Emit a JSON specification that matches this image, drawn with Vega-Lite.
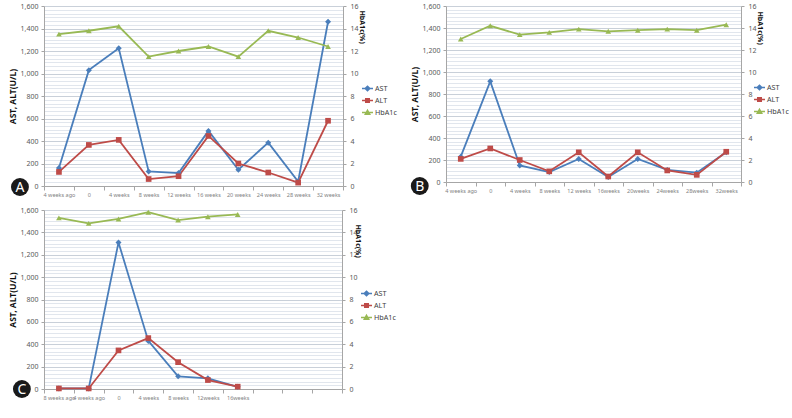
{
  "$schema": "https://vega.github.io/schema/vega-lite/v6.json",
  "background": "white",
  "padding": {"left": 8, "top": 2, "right": 0, "bottom": 2},
  "config": {
    "view": {"stroke": null},
    "font": "Noto Sans",
    "axis": {"labelColor": "#595959", "labelFontSize": 7, "titleFontSize": 8.5, "titleColor": "#111111", "titleFontWeight": "bold", "domainColor": "#a6a6a6", "tickColor": "#a6a6a6"},
    "legend": {"labelFontSize": 7.2, "labelColor": "#404040", "rowPadding": 0, "symbolSize": 121, "labelOffset": 1}
  },
  "datasets": {
    "A": [
      {"t": "4 weeks ago", "series": "AST", "value": 160},
      {"t": "0", "series": "AST", "value": 1030},
      {"t": "4 weeks", "series": "AST", "value": 1225},
      {"t": "8 weeks", "series": "AST", "value": 130},
      {"t": "12 weeks", "series": "AST", "value": 115},
      {"t": "16 weeks", "series": "AST", "value": 490},
      {"t": "20 weeks", "series": "AST", "value": 145},
      {"t": "24 weeks", "series": "AST", "value": 385},
      {"t": "28 weeks", "series": "AST", "value": 40},
      {"t": "32 weeks", "series": "AST", "value": 1460},
      {"t": "4 weeks ago", "series": "ALT", "value": 125},
      {"t": "0", "series": "ALT", "value": 365},
      {"t": "4 weeks", "series": "ALT", "value": 410},
      {"t": "8 weeks", "series": "ALT", "value": 62},
      {"t": "12 weeks", "series": "ALT", "value": 87},
      {"t": "16 weeks", "series": "ALT", "value": 445},
      {"t": "20 weeks", "series": "ALT", "value": 200},
      {"t": "24 weeks", "series": "ALT", "value": 120},
      {"t": "28 weeks", "series": "ALT", "value": 30},
      {"t": "32 weeks", "series": "ALT", "value": 580},
      {"t": "4 weeks ago", "series": "HbA1c", "value": 13.5},
      {"t": "0", "series": "HbA1c", "value": 13.8},
      {"t": "4 weeks", "series": "HbA1c", "value": 14.2},
      {"t": "8 weeks", "series": "HbA1c", "value": 11.5},
      {"t": "12 weeks", "series": "HbA1c", "value": 12.0},
      {"t": "16 weeks", "series": "HbA1c", "value": 12.4},
      {"t": "20 weeks", "series": "HbA1c", "value": 11.5},
      {"t": "24 weeks", "series": "HbA1c", "value": 13.8},
      {"t": "28 weeks", "series": "HbA1c", "value": 13.2},
      {"t": "32 weeks", "series": "HbA1c", "value": 12.4}
    ],
    "B": [
      {"t": "4 weeks ago", "series": "AST", "value": 230},
      {"t": "0", "series": "AST", "value": 915},
      {"t": "4 weeks", "series": "AST", "value": 150},
      {"t": "8 weeks", "series": "AST", "value": 90},
      {"t": "12 weeks", "series": "AST", "value": 210},
      {"t": "16weeks", "series": "AST", "value": 45},
      {"t": "20weeks", "series": "AST", "value": 210},
      {"t": "24weeks", "series": "AST", "value": 110},
      {"t": "28weeks", "series": "AST", "value": 85},
      {"t": "32weeks", "series": "AST", "value": 270},
      {"t": "4 weeks ago", "series": "ALT", "value": 210},
      {"t": "0", "series": "ALT", "value": 305},
      {"t": "4 weeks", "series": "ALT", "value": 200},
      {"t": "8 weeks", "series": "ALT", "value": 97},
      {"t": "12 weeks", "series": "ALT", "value": 270},
      {"t": "16weeks", "series": "ALT", "value": 50},
      {"t": "20weeks", "series": "ALT", "value": 270},
      {"t": "24weeks", "series": "ALT", "value": 105},
      {"t": "28weeks", "series": "ALT", "value": 65},
      {"t": "32weeks", "series": "ALT", "value": 275},
      {"t": "4 weeks ago", "series": "HbA1c", "value": 13.0},
      {"t": "0", "series": "HbA1c", "value": 14.2},
      {"t": "4 weeks", "series": "HbA1c", "value": 13.4},
      {"t": "8 weeks", "series": "HbA1c", "value": 13.6},
      {"t": "12 weeks", "series": "HbA1c", "value": 13.9},
      {"t": "16weeks", "series": "HbA1c", "value": 13.7},
      {"t": "20weeks", "series": "HbA1c", "value": 13.8},
      {"t": "24weeks", "series": "HbA1c", "value": 13.9},
      {"t": "28weeks", "series": "HbA1c", "value": 13.8},
      {"t": "32weeks", "series": "HbA1c", "value": 14.3}
    ],
    "C": [
      {"t": "8 weeks ago", "series": "AST", "value": 5},
      {"t": "4 weeks ago", "series": "AST", "value": 5},
      {"t": "0", "series": "AST", "value": 1310},
      {"t": "4 weeks", "series": "AST", "value": 430},
      {"t": "8 weeks", "series": "AST", "value": 113},
      {"t": "12weeks", "series": "AST", "value": 95},
      {"t": "16weeks", "series": "AST", "value": 20},
      {"t": "8 weeks ago", "series": "ALT", "value": 5},
      {"t": "4 weeks ago", "series": "ALT", "value": 5},
      {"t": "0", "series": "ALT", "value": 345},
      {"t": "4 weeks", "series": "ALT", "value": 455},
      {"t": "8 weeks", "series": "ALT", "value": 240},
      {"t": "12weeks", "series": "ALT", "value": 80},
      {"t": "16weeks", "series": "ALT", "value": 21},
      {"t": "8 weeks ago", "series": "HbA1c", "value": 15.3},
      {"t": "4 weeks ago", "series": "HbA1c", "value": 14.8},
      {"t": "0", "series": "HbA1c", "value": 15.2},
      {"t": "4 weeks", "series": "HbA1c", "value": 15.8},
      {"t": "8 weeks", "series": "HbA1c", "value": 15.1},
      {"t": "12weeks", "series": "HbA1c", "value": 15.4},
      {"t": "16weeks", "series": "HbA1c", "value": 15.6}
    ],
    "badgeA": [{"t": "4 weeks ago", "label": "A"}],
    "badgeB": [{"t": "4 weeks ago", "label": "B"}],
    "badgeC": [{"t": "8 weeks ago", "label": "C"}]
  },
  "spacing": 8,
  "resolve": {"scale": {"color": "independent", "x": "independent"}, "legend": {"color": "independent"}},
  "vconcat": [
    {
      "spacing": 13,
      "resolve": {"scale": {"color": "independent", "x": "independent"}, "legend": {"color": "independent"}},
      "hconcat": [
        {
          "width": 299, "height": 180,
          "encoding": {
            "x": {"field": "t", "type": "nominal", "sort": null,
              "scale": {"type": "band", "paddingInner": 0, "paddingOuter": 0, "domain": ["4 weeks ago", "0", "4 weeks", "8 weeks", "12 weeks", "16 weeks", "20 weeks", "24 weeks", "28 weeks", "32 weeks"]},
              "axis": {"title": null, "labelAngle": 0, "labelFontSize": 5.5, "labelColor": "#7f7f7f", "labelOverlap": false, "tickBand": "extent", "tickSize": 4, "labelPadding": 2, "domainColor": "#a6a6a6"}}
          },
          "layer": [
            {
              "data": {"name": "A"},
              "transform": [{"filter": "datum.series !== 'HbA1c'"}],
              "encoding": {
                "y": {"field": "value", "type": "quantitative", "scale": {"domain": [0, 1600], "nice": false},
                  "axis": {"title": "AST, ALT(U/L)", "titlePadding": 3, "labelPadding": 3,
                    "values": [0, 33.333, 66.667, 100, 133.333, 166.667, 200, 233.333, 266.667, 300, 333.333, 366.667, 400, 433.333, 466.667, 500, 533.333, 566.667, 600, 633.333, 666.667, 700, 733.333, 766.667, 800, 833.333, 866.667, 900, 933.333, 966.667, 1000, 1033.333, 1066.667, 1100, 1133.333, 1166.667, 1200, 1233.333, 1266.667, 1300, 1333.333, 1366.667, 1400, 1433.333, 1466.667, 1500, 1533.333, 1566.667, 1600],
                    "labelExpr": "abs(datum.value/200 - round(datum.value/200)) < 0.01 ? format(datum.value, ',') : ''",
                    "grid": true,
                    "gridColor": {"condition": {"test": "abs(datum.value/200 - round(datum.value/200)) < 0.01", "value": "#c9d0d9"}, "value": "#e1e6ed"},
                    "tickOpacity": {"condition": {"test": "abs(datum.value/200 - round(datum.value/200)) < 0.01", "value": 1}, "value": 0},
                    "tickSize": 3}},
                "color": {"field": "series", "type": "nominal", "scale": {"domain": ["AST", "ALT", "HbA1c"], "range": ["#4a7ebb", "#be4b48", "#98b954"]},
                  "legend": {"title": null, "orient": "none", "legendX": 317, "legendY": 76,
                    "encode": {"symbols": {"update": {
                      "shape": {"signal": "datum.value === 'AST' ? 'M-1,0H1M0,-0.42L0.42,0L0,0.42L-0.42,0Z' : datum.value === 'ALT' ? 'M-1,0H1M-0.32,-0.32H0.32V0.32H-0.32Z' : 'M-1,0H1M0,-0.4L0.4,0.3H-0.4Z'"},
                      "stroke": {"signal": "datum.value === 'AST' ? '#4a7ebb' : datum.value === 'ALT' ? '#be4b48' : '#98b954'"},
                      "fill": {"signal": "datum.value === 'AST' ? '#4a7ebb' : datum.value === 'ALT' ? '#be4b48' : '#98b954'"},
                      "strokeWidth": {"value": 1.5}, "opacity": {"value": 1}}}}}}
              },
              "layer": [
                {"mark": {"type": "line", "strokeWidth": 1.8}},
                {"transform": [{"filter": "datum.series === 'AST'"}], "mark": {"type": "point", "shape": "diamond", "filled": true, "opacity": 1, "size": 36}},
                {"transform": [{"filter": "datum.series === 'ALT'"}], "mark": {"type": "point", "shape": "square", "filled": true, "opacity": 1, "size": 32}}
              ]
            },
            {
              "data": {"name": "A"},
              "transform": [{"filter": "datum.series === 'HbA1c'"}],
              "encoding": {
                "y": {"field": "value", "type": "quantitative", "scale": {"domain": [0, 16], "nice": false},
                  "axis": {"orient": "right", "title": "HbA1c(%)", "titleFontSize": 7, "values": [0, 2, 4, 6, 8, 10, 12, 14, 16], "grid": false, "tickSize": 3, "labelPadding": 4,
                    "titleAngle": 90, "titleAlign": "left", "titleBaseline": "middle", "titleX": 18, "titleY": 4}}
              },
              "layer": [
                {"mark": {"type": "line", "strokeWidth": 1.8, "color": "#98b954"}},
                {"mark": {"type": "point", "filled": true, "opacity": 1, "size": 32, "shape": "triangle-up", "color": "#98b954"}}
              ]
            },
            {
              "data": {"name": "badgeA"},
              "encoding": {
                "x": {"field": "t", "type": "nominal"},
                "y": {"datum": 0, "type": "quantitative", "scale": {"domain": [0, 1600], "nice": false}, "axis": null}
              },
              "layer": [
                {"mark": {"type": "point", "shape": "circle", "filled": true, "color": "#1a1a1a", "opacity": 1, "size": 320, "xOffset": -39, "yOffset": 1}},
                {"mark": {"type": "text", "color": "white", "fontSize": 14, "align": "center", "baseline": "middle", "xOffset": -39, "yOffset": 1.5},
                  "encoding": {"text": {"field": "label"}}}
              ]
            }
          ],
          "resolve": {"scale": {"y": "independent"}}
        },
        {
          "width": 295, "height": 176,
          "encoding": {
            "x": {"field": "t", "type": "nominal", "sort": null,
              "scale": {"type": "band", "paddingInner": 0, "paddingOuter": 0, "domain": ["4 weeks ago", "0", "4 weeks", "8 weeks", "12 weeks", "16weeks", "20weeks", "24weeks", "28weeks", "32weeks"]},
              "axis": {"title": null, "labelAngle": 0, "labelFontSize": 5.5, "labelColor": "#7f7f7f", "labelOverlap": false, "tickBand": "extent", "tickSize": 4, "labelPadding": 2, "domainColor": "#a6a6a6"}}
          },
          "layer": [
            {
              "data": {"name": "B"},
              "transform": [{"filter": "datum.series !== 'HbA1c'"}],
              "encoding": {
                "y": {"field": "value", "type": "quantitative", "scale": {"domain": [0, 1600], "nice": false},
                  "axis": {"title": "AST, ALT(U/L)", "titlePadding": 3, "labelPadding": 3,
                    "values": [0, 33.333, 66.667, 100, 133.333, 166.667, 200, 233.333, 266.667, 300, 333.333, 366.667, 400, 433.333, 466.667, 500, 533.333, 566.667, 600, 633.333, 666.667, 700, 733.333, 766.667, 800, 833.333, 866.667, 900, 933.333, 966.667, 1000, 1033.333, 1066.667, 1100, 1133.333, 1166.667, 1200, 1233.333, 1266.667, 1300, 1333.333, 1366.667, 1400, 1433.333, 1466.667, 1500, 1533.333, 1566.667, 1600],
                    "labelExpr": "abs(datum.value/200 - round(datum.value/200)) < 0.01 ? format(datum.value, ',') : ''",
                    "grid": true,
                    "gridColor": {"condition": {"test": "abs(datum.value/200 - round(datum.value/200)) < 0.01", "value": "#c9d0d9"}, "value": "#e1e6ed"},
                    "tickOpacity": {"condition": {"test": "abs(datum.value/200 - round(datum.value/200)) < 0.01", "value": 1}, "value": 0},
                    "tickSize": 3}},
                "color": {"field": "series", "type": "nominal", "scale": {"domain": ["AST", "ALT", "HbA1c"], "range": ["#4a7ebb", "#be4b48", "#98b954"]},
                  "legend": {"title": null, "orient": "none", "legendX": 307, "legendY": 75,
                    "encode": {"symbols": {"update": {
                      "shape": {"signal": "datum.value === 'AST' ? 'M-1,0H1M0,-0.42L0.42,0L0,0.42L-0.42,0Z' : datum.value === 'ALT' ? 'M-1,0H1M-0.32,-0.32H0.32V0.32H-0.32Z' : 'M-1,0H1M0,-0.4L0.4,0.3H-0.4Z'"},
                      "stroke": {"signal": "datum.value === 'AST' ? '#4a7ebb' : datum.value === 'ALT' ? '#be4b48' : '#98b954'"},
                      "fill": {"signal": "datum.value === 'AST' ? '#4a7ebb' : datum.value === 'ALT' ? '#be4b48' : '#98b954'"},
                      "strokeWidth": {"value": 1.5}, "opacity": {"value": 1}}}}}}
              },
              "layer": [
                {"mark": {"type": "line", "strokeWidth": 1.8}},
                {"transform": [{"filter": "datum.series === 'AST'"}], "mark": {"type": "point", "shape": "diamond", "filled": true, "opacity": 1, "size": 36}},
                {"transform": [{"filter": "datum.series === 'ALT'"}], "mark": {"type": "point", "shape": "square", "filled": true, "opacity": 1, "size": 32}}
              ]
            },
            {
              "data": {"name": "B"},
              "transform": [{"filter": "datum.series === 'HbA1c'"}],
              "encoding": {
                "y": {"field": "value", "type": "quantitative", "scale": {"domain": [0, 16], "nice": false},
                  "axis": {"orient": "right", "title": "HbA1c(%)", "titleFontSize": 7, "values": [0, 2, 4, 6, 8, 10, 12, 14, 16], "grid": false, "tickSize": 3, "labelPadding": 4,
                    "titleAngle": 90, "titleAlign": "left", "titleBaseline": "middle", "titleX": 18, "titleY": 5}}
              },
              "layer": [
                {"mark": {"type": "line", "strokeWidth": 1.8, "color": "#98b954"}},
                {"mark": {"type": "point", "filled": true, "opacity": 1, "size": 32, "shape": "triangle-up", "color": "#98b954"}}
              ]
            },
            {
              "data": {"name": "badgeB"},
              "encoding": {
                "x": {"field": "t", "type": "nominal"},
                "y": {"datum": 0, "type": "quantitative", "scale": {"domain": [0, 1600], "nice": false}, "axis": null}
              },
              "layer": [
                {"mark": {"type": "point", "shape": "circle", "filled": true, "color": "#1a1a1a", "opacity": 1, "size": 320, "xOffset": -41, "yOffset": 4}},
                {"mark": {"type": "text", "color": "white", "fontSize": 14, "align": "center", "baseline": "middle", "xOffset": -41, "yOffset": 4.5},
                  "encoding": {"text": {"field": "label"}}}
              ]
            }
          ],
          "resolve": {"scale": {"y": "independent"}}
        }
      ]
    },
    {
      "width": 298, "height": 179,
      "encoding": {
        "x": {"field": "t", "type": "nominal", "sort": null,
          "scale": {"type": "band", "paddingInner": 0, "paddingOuter": 0, "domain": ["8 weeks ago", "4 weeks ago", "0", "4 weeks", "8 weeks", "12weeks", "16weeks", " ", "  ", "   "]},
          "axis": {"title": null, "labelAngle": 0, "labelFontSize": 5.5, "labelColor": "#7f7f7f", "labelOverlap": false, "tickBand": "extent", "tickSize": 4, "labelPadding": 2, "domainColor": "#a6a6a6"}}
      },
      "layer": [
        {
          "data": {"name": "C"},
          "transform": [{"filter": "datum.series !== 'HbA1c'"}],
          "encoding": {
            "y": {"field": "value", "type": "quantitative", "scale": {"domain": [0, 1600], "nice": false},
              "axis": {"title": "AST, ALT(U/L)", "titlePadding": 3, "labelPadding": 3,
                "values": [0, 33.333, 66.667, 100, 133.333, 166.667, 200, 233.333, 266.667, 300, 333.333, 366.667, 400, 433.333, 466.667, 500, 533.333, 566.667, 600, 633.333, 666.667, 700, 733.333, 766.667, 800, 833.333, 866.667, 900, 933.333, 966.667, 1000, 1033.333, 1066.667, 1100, 1133.333, 1166.667, 1200, 1233.333, 1266.667, 1300, 1333.333, 1366.667, 1400, 1433.333, 1466.667, 1500, 1533.333, 1566.667, 1600],
                "labelExpr": "abs(datum.value/200 - round(datum.value/200)) < 0.01 ? format(datum.value, ',') : ''",
                "grid": true,
                "gridColor": {"condition": {"test": "abs(datum.value/200 - round(datum.value/200)) < 0.01", "value": "#c9d0d9"}, "value": "#e1e6ed"},
                "tickOpacity": {"condition": {"test": "abs(datum.value/200 - round(datum.value/200)) < 0.01", "value": 1}, "value": 0},
                "tickSize": 3}},
            "color": {"field": "series", "type": "nominal", "scale": {"domain": ["AST", "ALT", "HbA1c"], "range": ["#4a7ebb", "#be4b48", "#98b954"]},
              "legend": {"title": null, "orient": "none", "legendX": 316, "legendY": 77,
                "encode": {"symbols": {"update": {
                  "shape": {"signal": "datum.value === 'AST' ? 'M-1,0H1M0,-0.42L0.42,0L0,0.42L-0.42,0Z' : datum.value === 'ALT' ? 'M-1,0H1M-0.32,-0.32H0.32V0.32H-0.32Z' : 'M-1,0H1M0,-0.4L0.4,0.3H-0.4Z'"},
                  "stroke": {"signal": "datum.value === 'AST' ? '#4a7ebb' : datum.value === 'ALT' ? '#be4b48' : '#98b954'"},
                  "fill": {"signal": "datum.value === 'AST' ? '#4a7ebb' : datum.value === 'ALT' ? '#be4b48' : '#98b954'"},
                  "strokeWidth": {"value": 1.5}, "opacity": {"value": 1}}}}}}
          },
          "layer": [
            {"mark": {"type": "line", "strokeWidth": 1.8}},
            {"transform": [{"filter": "datum.series === 'AST'"}], "mark": {"type": "point", "shape": "diamond", "filled": true, "opacity": 1, "size": 36}},
            {"transform": [{"filter": "datum.series === 'ALT'"}], "mark": {"type": "point", "shape": "square", "filled": true, "opacity": 1, "size": 32}}
          ]
        },
        {
          "data": {"name": "C"},
          "transform": [{"filter": "datum.series === 'HbA1c'"}],
          "encoding": {
            "y": {"field": "value", "type": "quantitative", "scale": {"domain": [0, 16], "nice": false},
              "axis": {"orient": "right", "title": "HbA1c(%)", "titleFontSize": 7, "values": [0, 2, 4, 6, 8, 10, 12, 14, 16], "grid": false, "tickSize": 3, "labelPadding": 4,
                "titleAngle": 90, "titleAlign": "left", "titleBaseline": "middle", "titleX": 15, "titleY": 14}}
          },
          "layer": [
            {"mark": {"type": "line", "strokeWidth": 1.8, "color": "#98b954"}},
            {"mark": {"type": "point", "filled": true, "opacity": 1, "size": 32, "shape": "triangle-up", "color": "#98b954"}}
          ]
        },
        {
          "data": {"name": "badgeC"},
          "encoding": {
            "x": {"field": "t", "type": "nominal"},
            "y": {"datum": 0, "type": "quantitative", "scale": {"domain": [0, 1600], "nice": false}, "axis": null}
          },
          "layer": [
            {"mark": {"type": "point", "shape": "circle", "filled": true, "color": "#1a1a1a", "opacity": 1, "size": 320, "xOffset": -37, "yOffset": 0}},
            {"mark": {"type": "text", "color": "white", "fontSize": 14, "align": "center", "baseline": "middle", "xOffset": -37, "yOffset": 0.5},
              "encoding": {"text": {"field": "label"}}}
          ]
        }
      ],
      "resolve": {"scale": {"y": "independent"}}
    }
  ]
}
